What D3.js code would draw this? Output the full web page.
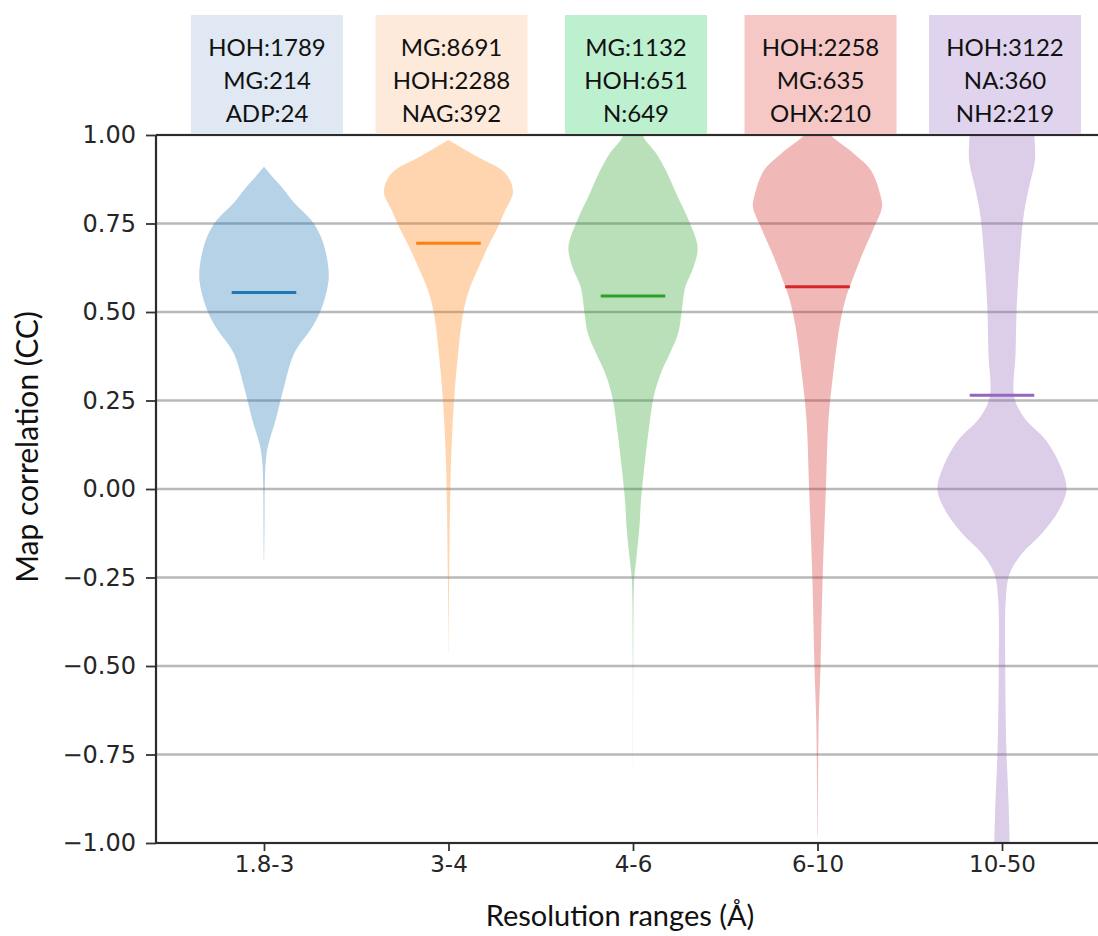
<!DOCTYPE html>
<html>
<head>
<meta charset="utf-8">
<script src="https://cdn.jsdelivr.net/npm/d3@7"></script>
<style>
  body { margin: 0; background: #fff; }
  svg { display: block; }
</style>
</head>
<body>
<div id="chart"></div>
<script>
// categories on the x axis
const categories = ['1.8-3', '3-4', '4-6', '6-10', '10-50'];

// mean map correlation for each range (the horizontal bar in each violin)
const means = [0.555, 0.694, 0.545, 0.571, 0.265];

// top-3 ligand counts shown in the boxes above each violin
const ligandLabels = [
  ['HOH:1789', 'MG:214', 'ADP:24'],
  ['MG:8691', 'HOH:2288', 'NAG:392'],
  ['MG:1132', 'HOH:651', 'N:649'],
  ['HOH:2258', 'MG:635', 'OHX:210'],
  ['HOH:3122', 'NA:360', 'NH2:219']
];

// density profiles: [CC value, relative half-width 0..1]
const profile1 = [[0.91, 0], [0.88, 0.14], [0.854, 0.27], [0.808, 0.47], [0.76, 0.73], [0.713, 0.88],
  [0.647, 0.98], [0.59, 1.0], [0.515, 0.9], [0.458, 0.75], [0.384, 0.47], [0.289, 0.31],
  [0.195, 0.18], [0.12, 0.06], [0.073, 0.025], [0.0, 0.012], [-0.1, 0.008], [-0.2, 0.003]];
const profile2 = [[0.986, 0], [0.939, 0.44], [0.892, 0.88], [0.84, 1.0], [0.788, 0.88], [0.746, 0.78],
  [0.684, 0.61], [0.619, 0.45], [0.562, 0.32], [0.5, 0.23], [0.402, 0.16], [0.26, 0.09],
  [0.167, 0.06], [0.05, 0.035], [-0.1, 0.02], [-0.25, 0.01], [-0.35, 0.005], [-0.46, 0.002]];
const profile3 = [[1.0, 0.15], [0.986, 0.19], [0.948, 0.36], [0.892, 0.53], [0.826, 0.69], [0.76, 0.86],
  [0.684, 1.0], [0.628, 0.94], [0.571, 0.81], [0.496, 0.75], [0.44, 0.7], [0.383, 0.57],
  [0.327, 0.43], [0.26, 0.32], [0.176, 0.25], [0.054, 0.17], [0.0, 0.14], [-0.04, 0.12],
  [-0.106, 0.1], [-0.2, 0.05], [-0.25, 0.02], [-0.31, 0.01], [-0.47, 0.004], [-0.8, 0.001]];
const profile4 = [[1.0, 0.2], [0.99, 0.26], [0.948, 0.56], [0.9, 0.83], [0.826, 0.98], [0.797, 1.0],
  [0.732, 0.86], [0.666, 0.7], [0.6, 0.56], [0.534, 0.43], [0.458, 0.34], [0.336, 0.25],
  [0.195, 0.17], [0.0, 0.13], [-0.25, 0.08], [-0.5, 0.047], [-0.65, 0.02], [-0.77, 0.01], [-0.98, 0.003]];
const profile5 = [[1.0, 0.5], [0.929, 0.51], [0.854, 0.42], [0.779, 0.34], [0.666, 0.28], [0.525, 0.23],
  [0.383, 0.21], [0.26, 0.19], [0.2, 0.35], [0.138, 0.68], [0.063, 0.91], [0.0, 1.0],
  [-0.06, 0.88], [-0.125, 0.62], [-0.182, 0.31], [-0.238, 0.12], [-0.31, 0.06], [-0.5, 0.05],
  [-0.745, 0.07], [-0.878, 0.1], [-1.0, 0.12]];
const profiles = [profile1, profile2, profile3, profile4, profile5];

const yTicks = [-1, -0.75, -0.5, -0.25, 0, 0.25, 0.5, 0.75, 1];

// matplotlib tab10 + the pastel box fills
const lineColors = ['#1f77b4', '#ff7f0e', '#2ca02c', '#d62728', '#9467bd'];
const boxFills = ['#dfe8f3', '#fdeadb', '#bdf0cf', '#f5c8c6', '#e0d3ee'];

const W = 1098, H = 936;
const plot = { left: 156, top: 135, bottom: 843, right: 1098 };

const svg = d3.select('#chart').append('svg')
  .attr('width', W).attr('height', H);

svg.append('rect').attr('width', W).attr('height', H).attr('fill', '#fff');

// positions 1..5 like matplotlib; xlim chosen so the spine sits left of the first violin
const x = d3.scaleLinear().domain([1, 5]).range([264, 1002]);
const y = d3.scaleLinear().domain([-1, 1]).range([plot.bottom, plot.top]);

const violinWidth = 0.7; // in position units
const halfPx = (x(1 + violinWidth / 2) - x(1));

// grid
svg.append('g')
  .selectAll('line')
  .data(yTicks)
  .join('line')
  .attr('x1', plot.left).attr('x2', plot.right)
  .attr('y1', d => y(d)).attr('y2', d => y(d))
  .attr('stroke', '#b9b9b9')
  .attr('stroke-width', 2.4);

// violins
const violins = svg.append('g');
profiles.forEach((prof, i) => {
  const cx = x(i + 1);
  const area = d3.area()
    .y(d => y(d[0]))
    .x0(d => cx - d[1] * halfPx)
    .x1(d => cx + d[1] * halfPx)
    .curve(d3.curveCatmullRom.alpha(0.5));
  violins.append('path')
    .datum(prof)
    .attr('d', area)
    .attr('fill', lineColors[i])
    .attr('fill-opacity', 0.33);
});

// mean bars (length = half the violin width, as matplotlib does)
svg.append('g')
  .selectAll('line')
  .data(means)
  .join('line')
  .attr('x1', (d, i) => x(i + 1 - violinWidth / 4))
  .attr('x2', (d, i) => x(i + 1 + violinWidth / 4))
  .attr('y1', d => y(d)).attr('y2', d => y(d))
  .attr('stroke', (d, i) => lineColors[i])
  .attr('stroke-width', 3);

// y axis
const yAxis = svg.append('g')
  .attr('transform', `translate(${plot.left},0)`)
  .call(d3.axisLeft(y).tickValues(yTicks).tickFormat(d3.format('.2f')).tickSize(10).tickPadding(10));
yAxis.select('.domain').remove();
yAxis.selectAll('.tick line').attr('stroke', '#333').attr('stroke-width', 1.8);
yAxis.selectAll('.tick text')
  .attr('fill', '#262626')
  .style('font-family', '"DejaVu Sans", sans-serif')
  .style('font-size', '24px');

// x axis
const xAxis = svg.append('g')
  .attr('transform', `translate(0,${plot.bottom})`)
  .call(d3.axisBottom(x).tickValues([1, 2, 3, 4, 5]).tickFormat((d, i) => categories[i]).tickSize(8).tickPadding(5));
xAxis.select('.domain').remove();
xAxis.selectAll('.tick line').attr('stroke', '#333').attr('stroke-width', 1.8);
xAxis.selectAll('.tick text')
  .attr('fill', '#262626')
  .style('font-family', '"DejaVu Sans", sans-serif')
  .style('font-size', '23px');

// spines
const spines = svg.append('g').attr('stroke', '#2b2b2b').attr('stroke-width', 2.2);
spines.append('line').attr('x1', plot.left).attr('x2', plot.left).attr('y1', plot.top).attr('y2', plot.bottom);
spines.append('line').attr('x1', plot.left).attr('x2', plot.right).attr('y1', plot.top).attr('y2', plot.top);
spines.append('line').attr('x1', plot.left).attr('x2', plot.right).attr('y1', plot.bottom).attr('y2', plot.bottom);

// ligand boxes
const boxW = 152, boxTop = 15;
const boxes = svg.append('g').selectAll('g')
  .data(ligandLabels)
  .join('g')
  .attr('transform', (d, i) => `translate(${x(i + 1) + 3},0)`);
boxes.append('rect')
  .attr('x', (d, i) => i === 2 ? -71 : -boxW / 2)
  .attr('width', (d, i) => i === 2 ? 142 : boxW)
  .attr('y', boxTop)
  .attr('height', plot.top - boxTop - 1)
  .attr('fill', (d, i) => boxFills[i]);
boxes.selectAll('text')
  .data(d => d)
  .join('text')
  .attr('x', 0)
  .attr('y', (d, j) => 56 + j * 33)
  .attr('text-anchor', 'middle')
  .attr('fill', '#111')
  .style('font-family', 'Lato, sans-serif')
  .style('font-size', '24px')
  .text(d => d);

// axis titles
svg.append('text')
  .attr('transform', `translate(38,${(plot.top + plot.bottom) / 2 - 42}) rotate(-90)`)
  .attr('text-anchor', 'middle')
  .attr('fill', '#111')
  .style('font-family', 'Lato, sans-serif')
  .style('font-size', '30px')
  .text('Map correlation (CC)');

svg.append('text')
  .attr('x', 620)
  .attr('y', 926)
  .attr('text-anchor', 'middle')
  .attr('fill', '#111')
  .style('font-family', 'Lato, sans-serif')
  .style('font-size', '29px')
  .text('Resolution ranges (Å)');
</script>
</body>
</html>
